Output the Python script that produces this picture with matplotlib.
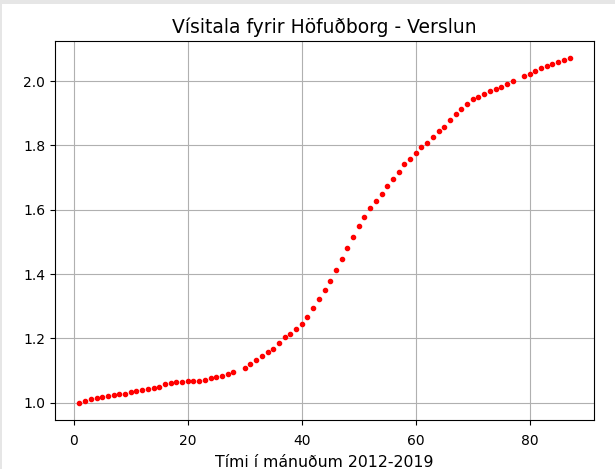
import matplotlib
matplotlib.use('Agg')
import matplotlib.pyplot as plt
from matplotlib.patches import Rectangle

# monthly index, months 29 and 78 missing
months = [m for m in range(1, 88) if m not in (29, 78)]
index_values = [
    1.000, 1.004, 1.011, 1.015, 1.018, 1.022, 1.025, 1.028, 1.028, 1.032,
    1.036, 1.040, 1.044, 1.047, 1.050, 1.057, 1.061, 1.065, 1.065, 1.069,
    1.069, 1.069, 1.072, 1.076, 1.079, 1.082, 1.089, 1.096,
    1.109, 1.122, 1.132, 1.145, 1.157, 1.167, 1.186, 1.203, 1.214, 1.230,
    1.246, 1.266, 1.294, 1.322, 1.351, 1.380, 1.412, 1.447, 1.482, 1.514,
    1.550, 1.578, 1.604, 1.628, 1.649, 1.674, 1.695, 1.717, 1.742, 1.758,
    1.776, 1.794, 1.808, 1.827, 1.844, 1.858, 1.879, 1.897, 1.914, 1.929,
    1.944, 1.950, 1.960, 1.969, 1.975, 1.982, 1.990, 2.000,
    2.015, 2.021, 2.032, 2.040, 2.046, 2.053, 2.059, 2.066, 2.071,
]

fig = plt.figure(figsize=(6.15, 4.69), dpi=100)
ax = fig.add_axes([0.0894, 0.1045, 0.8766, 0.808])
ax.plot(months, index_values, 'r.')
ax.set_title('Vísitala fyrir Höfuðborg - Verslun', fontsize=13.5)
ax.set_xlabel('Tími í mánuðum 2012-2019', fontsize=11.3, labelpad=5)
ax.tick_params(axis='x', pad=6.5)
ax.grid(True)

# light grey screenshot border along top and left edge
fig.add_artist(Rectangle((0, 1 - 4 / 469), 1, 4 / 469, transform=fig.transFigure,
                         color='#e6e6e6', lw=0))
fig.add_artist(Rectangle((0, 0), 2 / 615, 1, transform=fig.transFigure,
                         color='#e6e6e6', lw=0))

fig.savefig('out.png')
plt.close(fig)
